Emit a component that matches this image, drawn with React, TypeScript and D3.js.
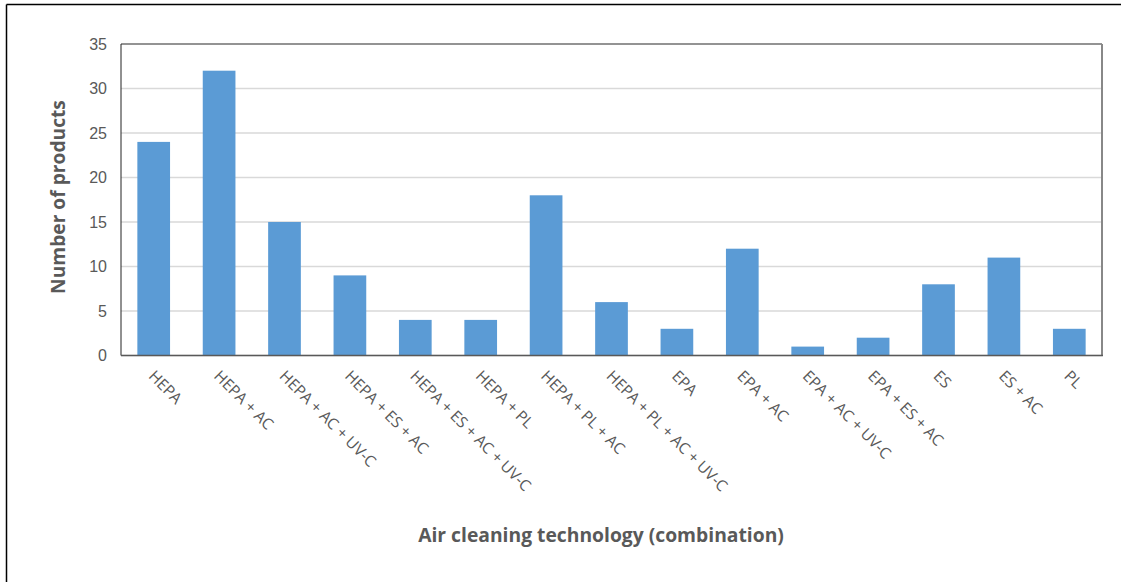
import React from "react";
import * as d3 from "d3";

const categories = [
  "HEPA",
  "HEPA + AC",
  "HEPA + AC + UV-C",
  "HEPA + ES + AC",
  "HEPA + ES + AC + UV-C",
  "HEPA + PL",
  "HEPA + PL + AC",
  "HEPA + PL + AC + UV-C",
  "EPA",
  "EPA + AC",
  "EPA + AC + UV-C",
  "EPA + ES + AC",
  "ES",
  "ES + AC",
  "PL",
];
const productCounts = [24, 32, 15, 9, 4, 4, 18, 6, 3, 12, 1, 2, 8, 11, 3];
const yTicks = [0, 5, 10, 15, 20, 25, 30, 35];

const W = 1121;
const H = 583;
const plot = { left: 121, right: 1102, top: 44, bottom: 355.5 };

export default function App() {
  const x = d3
    .scaleBand<string>()
    .domain(categories)
    .range([plot.left, plot.right])
    .paddingInner(0.5)
    .paddingOuter(0.25);
  const y = d3.scaleLinear().domain([0, 35]).range([plot.bottom, plot.top]);

  return (
    <svg
      width={W}
      height={H}
      style={{ position: "absolute", left: 0, top: 0, background: "#fff" }}
    >
      {/* outer frame */}
      <line x1={6.5} y1={4.5} x2={W} y2={4.5} stroke="#000" strokeWidth={1.5} />
      <line x1={6.5} y1={4.5} x2={6.5} y2={582} stroke="#000" strokeWidth={1.5} />

      {/* gridlines */}
      {yTicks.map((t) => (
        <line
          key={"g" + t}
          x1={plot.left}
          x2={plot.right}
          y1={y(t)}
          y2={y(t)}
          stroke="#D9D9D9"
          strokeWidth={1.3}
        />
      ))}

      {/* bars */}
      {categories.map((c, i) => (
        <rect
          key={c}
          x={x(c)}
          y={y(productCounts[i])}
          width={x.bandwidth()}
          height={plot.bottom - y(productCounts[i])}
          fill="#5B9BD5"
        />
      ))}

      {/* plot frame */}
      <line x1={plot.left} y1={plot.top} x2={plot.right} y2={plot.top} stroke="#444" strokeWidth={1} />
      <line x1={plot.left} y1={plot.top} x2={plot.left} y2={plot.bottom} stroke="#222" strokeWidth={1} />
      <line x1={plot.right} y1={plot.top} x2={plot.right} y2={plot.bottom} stroke="#888" strokeWidth={2} />
      <line x1={plot.left} y1={plot.bottom} x2={plot.right + 1} y2={plot.bottom} stroke="#595959" strokeWidth={1.5} />

      {/* y tick labels */}
      {yTicks.map((t) => (
        <text
          key={"t" + t}
          x={107}
          y={y(t)}
          dy="0.35em"
          textAnchor="end"
          fontFamily="Liberation Sans, Arial, sans-serif"
          fontSize={16}
          fill="#595959"
        >
          {t}
        </text>
      ))}

      {/* x tick labels */}
      {categories.map((c) => {
        const cx = (x(c) as number) + x.bandwidth() / 2 - 6;
        const cy = 377;
        return (
          <text
            key={"x" + c}
            transform={`translate(${cx},${cy}) rotate(45)`}
            fontFamily="Open Sans, sans-serif"
            fontSize={15.6}
            fill="#595959"
          >
            {c}
          </text>
        );
      })}

      {/* axis titles */}
      <text
        transform={`translate(65,197) rotate(-90)`}
        textAnchor="middle"
        fontFamily="Open Sans, sans-serif"
        fontWeight="bold"
        fontSize={19.2}
        fill="#595959"
      >
        Number of products
      </text>
      <text
        x={601}
        y={542}
        textAnchor="middle"
        fontFamily="Open Sans, sans-serif"
        fontWeight="bold"
        fontSize={19.3}
        fill="#595959"
      >
        Air cleaning technology (combination)
      </text>
    </svg>
  );
}
